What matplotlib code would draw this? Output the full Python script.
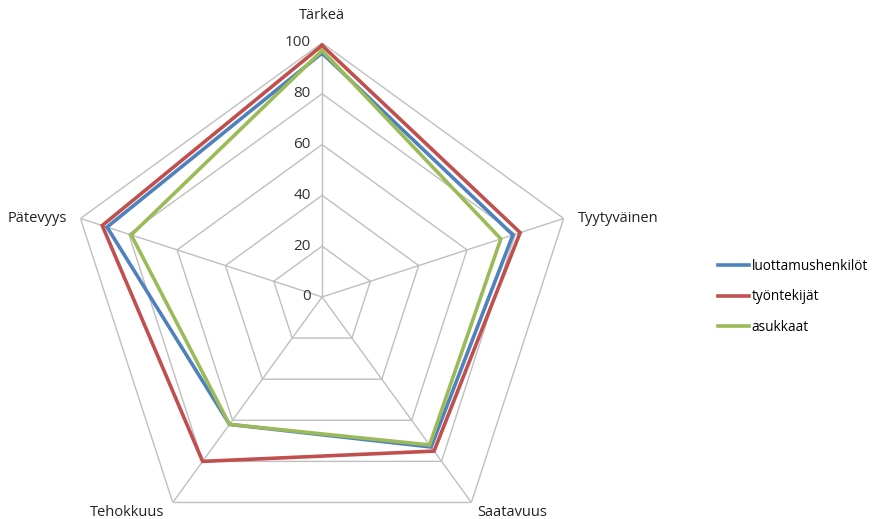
import numpy as np
import matplotlib.pyplot as plt

plt.rcParams['font.family'] = ['Open Sans', 'DejaVu Sans']

categories = ["Tärkeä", "Tyytyväinen", "Saatavuus", "Tehokkuus", "Pätevyys"]
luottamushenkilot = [96, 79, 73, 62, 89]
tyontekijat = [99, 82, 75, 80, 91]
asukkaat = [97, 74, 72, 62, 79]
levels = [20, 40, 60, 80, 100]

series = [
    ("luottamushenkilöt", luottamushenkilot, "#4F81BD"),
    ("työntekijät", tyontekijat, "#C0504D"),
    ("asukkaat", asukkaat, "#9BBB59"),
]

n = len(categories)
angles = np.linspace(0, 2 * np.pi, n, endpoint=False)
closed = np.append(angles, angles[0])

fig = plt.figure(figsize=(8.79, 5.19), dpi=100)
ax = fig.add_axes([0.0774, -0.0617, 0.578, 0.979], projection='polar')
ax.set_theta_offset(np.pi / 2)
ax.set_theta_direction(-1)
ax.set_ylim(0, 100)
ax.grid(False)
ax.spines['polar'].set_visible(False)
ax.set_xticks([])
ax.set_yticks([])
ax.patch.set_alpha(0)

# pentagon grid and spokes
for lv in levels:
    ax.plot(closed, [lv] * (n + 1), color="#BFBFBF", lw=1, zorder=1)
for a in angles:
    ax.plot([a, a], [0, 100], color="#BFBFBF", lw=1, zorder=1)

for name, vals, col in series:
    ax.plot(closed, vals + vals[:1], color=col, lw=2.6, label=name, zorder=3,
            solid_joinstyle='miter')

# radial tick labels along the top spoke
for lv in [0] + levels:
    ax.annotate(str(lv), xy=(0, lv), xytext=(-8, 0), textcoords='offset points',
                ha='right', va='center', fontsize=11, color="#333333")

# category labels
label_pos = [
    (angles[0], 'center', 'bottom', (0, 14)),
    (angles[1], 'left', 'center', (10, 0)),
    (angles[2], 'left', 'top', (4, -2)),
    (angles[3], 'right', 'top', (-6, -2)),
    (angles[4], 'right', 'center', (-10, 0)),
]
for cat, (a, ha, va, off) in zip(categories, label_pos):
    ax.annotate(cat, xy=(a, 100), xytext=off, textcoords='offset points',
                ha=ha, va=va, fontsize=10.5, color="#222222", annotation_clip=False)

fig.legend(loc='center left', bbox_to_anchor=(0.803, 0.428), frameon=False,
           handlelength=2.3, handletextpad=0.15, labelspacing=1.15, fontsize=9.8)

fig.savefig("out.png", dpi=100)
